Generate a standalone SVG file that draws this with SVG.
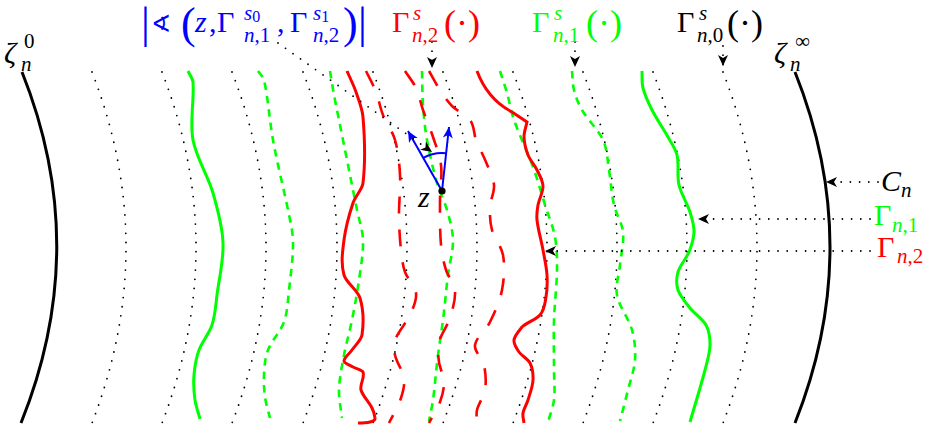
<svg xmlns="http://www.w3.org/2000/svg" width="927" height="425" viewBox="0 0 927 425">
<style>
.bg{fill:#fff}
.dot{fill:none;stroke:#000;stroke-width:1.8;stroke-linecap:round;stroke-dasharray:0 9.2}
.sk{fill:none;stroke:#000;stroke-width:3}
.gs{fill:none;stroke:#00ff00;stroke-width:3}
.gd{fill:none;stroke:#00ff00;stroke-width:2.6;stroke-dasharray:7.5 6}
.rs{fill:none;stroke:#ff0000;stroke-width:3}
.rd{fill:none;stroke:#ff0000;stroke-width:2.6;stroke-dasharray:17 16}
.bl{fill:none;stroke:#0000ff;stroke-width:2}
.m{font-family:"Liberation Serif","DejaVu Serif",serif;font-size:30px}
.i{font-style:italic}
.s{font-size:21px}
.ss{font-size:16px}
.p{font-size:36px}
.P{font-size:44px}
.b{fill:#0000ff}.r{fill:#ff0000}.g{fill:#00ff00}.k{fill:#000}
</style>
<defs>
<marker id="ah" viewBox="-12 -6 13 12" refX="0" refY="0" markerWidth="13" markerHeight="12" markerUnits="userSpaceOnUse" orient="auto" overflow="visible"><path d="M0,0 L-11,-5 L-8,0 L-11,5 Z" fill="#000"/></marker>
<marker id="ahb" viewBox="-12 -6 13 12" refX="0" refY="0" markerWidth="13" markerHeight="12" markerUnits="userSpaceOnUse" orient="auto" overflow="visible"><path d="M0,0 L-11,-5 L-8,0 L-11,5 Z" fill="#0000ff"/></marker>
</defs>
<rect class="bg" x="0" y="0" width="927" height="425"/>
<g id="dotted-curves">
<path class="dot" d="M92,72 Q160,247 92,423"/>
<path class="dot" d="M162,72 Q230,247 162,423"/>
<path class="dot" d="M232,72 Q300,247 232,423"/>
<path class="dot" d="M303,72 Q371,247 303,423"/>
<path class="dot" d="M373,72 Q441,247 373,423"/>
<path class="dot" d="M443,72 Q511,247 443,423"/>
<path class="dot" d="M513,72 Q581,247 513,423"/>
<path class="dot" d="M583,72 Q651,247 583,423"/>
<path class="dot" d="M653,72 Q721,247 653,423"/>
<path class="dot" d="M723,72 Q791,247 723,423"/>
</g>
<g id="boundary-curves">
<path class="sk" d="M22,72 Q92,247 21,423"/>
<path class="sk" d="M795,72 Q865,247 795,423"/>
</g>
<g id="green-curves">
<path class="gs" d="M188,71 C189.7,74.7 192.7,78.3 193,82 C194.4,101.3 189.5,120.7 193,140 C196.2,157.7 207.9,175.3 213,193 C217.8,209.7 222.5,226.3 223,243 C223.7,260.3 219.2,277.7 217,295 C215.7,305 215.3,315 212,325 C209.3,333.3 202,341.7 199,350 C196,358.3 194.7,366.7 194,375 C193.3,383.3 193.8,391.7 195,400 C195.9,406.3 198.4,412.7 200,419"/>
<path class="gd" d="M258,71 C260,74 263.3,77 264,80 C268.4,100 269.4,120 273,140 C277.2,163.3 283.3,186.7 288,210 C290.1,220.7 292.9,231.3 293,242 C293.2,258 290.8,274 289,290 C287.8,300.7 287.7,311.3 284,322 C280.7,331.3 271.5,340.7 268,350 C264.8,358.3 264.5,366.7 264,375 C263.6,382.3 264,389.7 265,397 C266,404 268.3,411 270,418"/>
<path class="gd" d="M330,71 C331.4,79 332.5,87 334,95 C336.9,110 340,125 343,140 C347.7,163.3 352.3,186.7 357,210 C359,220 362.7,230 363,240 C363.4,253.3 360.9,266.7 359,280 C357.1,293.3 354.7,306.7 352,320 C349.7,331.7 346.2,343.3 344,355 C341.8,366.7 339.4,378.3 339,390 C338.7,399.3 341,408.7 342,418"/>
<path class="gd" d="M422,71 C422.3,82.3 422.2,93.7 423,105 C423.8,116.7 424.9,128.3 427,140 C429.6,154.3 432.9,168.7 437,183 C439.6,192 444.5,201 447,210 C449.8,220 452.8,230 453,240 C453.2,251.7 449.5,263.3 448,275 C446,290 445,305 443,320 C441.5,331.7 439.5,343.3 438,355 C436,370 435.1,385 433,400 C432,407 430.3,414 429,421"/>
<path class="gd" d="M500,71 C502.3,78.3 504.9,85.7 507,93 C509.6,102 510.9,111 514,120 C519.5,135.7 527.3,151.3 533,167 C537.6,179.7 541.1,192.3 545,205 C548.3,215.7 553.1,226.3 555,237 C557,248 557.1,259 557,270 C556.8,286.7 554.5,303.3 554,320 C553.5,336.7 554,353.3 554,370 C554,380 555.2,390 554,400 C553.1,407.3 550,414.7 548,422"/>
<path class="gd" d="M572,71 C572.7,77.3 572.4,83.7 574,90 C575.7,96.7 578.1,103.3 582,110 C587.8,120 598.5,130 603,140 C607.5,150 607.3,160 609,170 C611,181.7 611.3,193.3 614,205 C616.1,214 622.1,223 623,232 C624.1,243 621.1,254 620,265 C619,275 615.2,285 617,295 C619.1,306.7 628.7,318.3 632,330 C634.8,340 635.7,350 635,360 C634.3,370 630.5,380 628,390 C625.4,400.3 622.7,410.7 620,421"/>
<path class="gs" d="M642,71 C642.3,76.7 641.5,82.3 643,88 C644.9,95.3 648.3,102.7 652,110 C656.6,119 663,128 668,137 C671.4,143 675.6,149 677,155 C679.3,165 676.7,175 679,185 C681.1,194 687.1,203 690,212 C692.1,218.7 694.2,225.3 694,232 C693.8,238.7 691.7,245.3 689,252 C686.3,258.7 679.9,265.3 678,272 C676.3,278 676,284 678,290 C680,296 685.2,302 690,308 C694.6,313.7 702.9,319.3 706,325 C709.6,331.7 710.1,338.3 710,345 C709.8,353.3 707.2,361.7 705,370 C700.5,387.3 695,404.7 690,422"/>
</g>
<g id="red-curves">
<path class="rs" d="M347,71 C350,78 353.6,85 356,92 C358.9,100.3 362.3,108.7 363,117 C364.8,139 365.6,161 363,183 C362.2,189.7 355.2,196.3 353,203 C348.9,215.3 345.6,227.7 344,240 C342.5,251.7 340.7,263.3 344,275 C346.2,282.7 357.7,290.3 360,298 C363.7,310.3 363.8,322.7 362,335 C361.2,340 355.5,345 352,350 C349.5,353.7 344,357.3 344,361 C344,363 349.5,365 353,367 C355.9,368.7 362.4,370.3 363,372 C365.1,378 359.5,384 361,390 C362.7,396 369,402 372,408 C373.7,411.3 374.7,414.7 375,418 C375.5,422 367,423 358,423"/>
<path class="rs" d="M477,71 C484,90 495,103 512,112 L527,122 C526,127 523.9,132 524,137 C524.2,143 525.7,149 528,155 C530,160 534.6,165 537,170 C539.6,175.3 542.8,180.7 543,186 C543.2,192.3 539.1,198.7 538,205 C537.1,210 536.5,215 537,220 C538.1,230 541.2,240 543,250 C544.5,258.3 546.5,266.7 547,275 C547.4,282.3 547.3,289.7 546,297 C544.9,303 544.8,309 540,315 C536.8,319 526.2,323 522,327 C518.6,331.3 514.5,335.7 514,340 C513.5,344 516.2,348 519,352 C521.6,355.7 528.2,359.3 530,363 C532.8,368.7 533.3,374.3 533,380 C532.7,386.7 530,393.3 528,400 C526.7,404.3 523.7,408.7 523,413 C522.4,416.3 523.7,419.7 524,423"/>
<path class="rd" d="M366,71 C369.4,78 373.3,85 376,92 C379,99.7 379.9,107.3 383,115 C386.3,123.3 392.7,131.7 395,140 C398.3,151.7 399.4,163.3 400,175 C400.7,188.3 398.9,201.7 399,215 C399.1,226.7 399.7,238.3 401,250 C401.8,257.3 402.4,264.7 405,272 C407.5,279 415.2,286 416,293 C416.9,300.3 413.2,307.7 410,315 C406.6,322.7 398.9,330.3 396,338 C393.8,343.7 393.9,349.3 395,355 C396.5,362.7 402.9,370.3 404,378 C404.9,384.7 403.2,391.3 401,398 C398.3,406.3 393,414.7 389,423"/>
<path class="rd" d="M405,71 C408.7,76.7 413.4,82.3 416,88 C419.4,95.3 420.4,102.7 423,110 C426.2,119 430,128 433,137 C436.1,146.3 440,155.7 441,165 C442.3,176.7 440,188.3 440,200 C440,215 439.7,230 441,245 C441.7,253.3 443.4,261.7 446,270 C448.1,276.7 454.5,283.3 455,290 C455.7,299.3 452.9,308.7 450,318 C447.5,326 441,334 439,342 C437.3,348.7 438.1,355.3 439,362 C439.9,368.7 443.8,375.3 444,382 C444.2,388.7 442.5,395.3 440,402 C437.4,409 432.6,416 429,423"/>
<path class="rd" d="M429,71 C432.7,77.3 435.8,83.7 440,90 C443.5,95.3 446.7,100.7 452,106 C456.7,110.7 466.7,115.3 470,120 C474.8,126.7 473.5,133.3 476,140 C478.8,147.3 483.1,154.7 486,162 C489.1,169.7 493.3,177.3 494,185 C494.7,192.3 490.3,199.7 490,207 C489.7,214.7 489.9,222.3 492,230 C494.2,238.3 501.6,246.7 503,255 C505,266.7 504.2,278.3 502,290 C500,300.7 495.2,311.3 490,322 C486.2,329.7 476.1,337.3 475,345 C474.1,351.7 482.5,358.3 484,365 C485.8,373.3 486.3,381.7 485,390 C483.9,396.7 478.6,403.3 477,410 C476,414.3 477,418.7 477,423"/>
</g>
<g id="angle-at-z">
<path class="bl" d="M442,191 L408,131" marker-end="url(#ahb)"/>
<path class="bl" d="M442,191 L449,127" marker-end="url(#ahb)"/>
<path class="bl" d="M423.3,157.9 A38,38 0 0,1 446.1,153.2"/>
<circle cx="442" cy="191" r="3.6" fill="#000"/>
<text class="m i k" x="418" y="207" font-size="26">z</text>
</g>
<g id="connectors">
<path class="dot" d="M278,43 L432,152" marker-end="url(#ah)"/>
<path class="dot" d="M432,42 L432,68" marker-end="url(#ah)"/>
<path class="dot" d="M575,42 L575,67" marker-end="url(#ah)"/>
<path class="dot" d="M723,46 L723,66" marker-end="url(#ah)"/>
<path class="dot" d="M878,182 L826,182" marker-end="url(#ah)"/>
<path class="dot" d="M870,219 L698,219" marker-end="url(#ah)"/>
<path class="dot" d="M870,251 L545,251" marker-end="url(#ah)"/>
</g>
<g id="label-angle">
<text class="m b P" x="141" y="38">|</text>
<text class="b" x="151" y="32" font-family="DejaVu Sans,sans-serif" font-size="24">∢</text>
<text class="m b P" x="181" y="38">(</text>
<text class="m b i" x="195" y="32">z</text>
<text class="m b" x="209" y="32">,</text>
<text class="m b" x="217" y="32">Γ</text>
<text class="m b s" x="244" y="20"><tspan class="i">s</tspan><tspan class="ss" dy="2">0</tspan></text>
<text class="m b s" x="244" y="42"><tspan class="i">n</tspan>,1</text>
<text class="m b" x="277" y="32">,</text>
<text class="m b" x="290" y="32">Γ</text>
<text class="m b s" x="313" y="20"><tspan class="i">s</tspan><tspan class="ss" dy="2">1</tspan></text>
<text class="m b s" x="313" y="42"><tspan class="i">n</tspan>,2</text>
<text class="m b P" x="343" y="38">)</text>
<text class="m b P" x="358" y="38">|</text>
</g>
<g id="label-gamma-n2-s">
<text class="m r" x="392" y="32">Γ</text>
<text class="m r s i" x="413" y="20">s</text>
<text class="m r s" x="412" y="42"><tspan class="i">n</tspan>,2</text>
<text class="m r p" x="444" y="35">(·)</text>
</g>
<g id="label-gamma-n1-s">
<text class="m g" x="532" y="32">Γ</text>
<text class="m g s i" x="554" y="20">s</text>
<text class="m g s" x="553" y="42"><tspan class="i">n</tspan>,1</text>
<text class="m g p" x="586" y="35">(·)</text>
</g>
<g id="label-gamma-n0-s">
<text class="m k" x="677" y="32">Γ</text>
<text class="m k s i" x="699" y="20">s</text>
<text class="m k s" x="697" y="42"><tspan class="i">n</tspan>,0</text>
<text class="m k p" x="727" y="35">(·)</text>
</g>
<g id="label-zeta-0">
<text class="m i k" x="4" y="63" font-size="28">ζ</text>
<text class="m k s" x="24" y="48">0</text>
<text class="m k s i" x="21" y="71">n</text>
</g>
<g id="label-zeta-inf">
<text class="m i k" x="774" y="63" font-size="28">ζ</text>
<text class="m k s" x="795" y="48">∞</text>
<text class="m k s i" x="790" y="71">n</text>
</g>
<g id="label-Cn">
<text class="m i k" x="881" y="191">C</text>
<text class="m k s i" x="901" y="197">n</text>
</g>
<g id="label-gamma-n1">
<text class="m g" x="874" y="225">Γ</text>
<text class="m g s" x="892" y="232"><tspan class="i">n</tspan>,1</text>
</g>
<g id="label-gamma-n2">
<text class="m r" x="877" y="257">Γ</text>
<text class="m r s" x="897" y="263"><tspan class="i">n</tspan>,2</text>
</g>
</svg>
